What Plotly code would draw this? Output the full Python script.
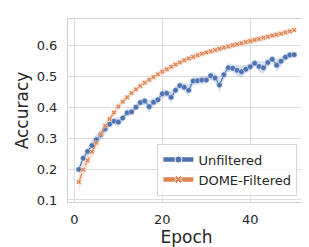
import plotly.graph_objects as go

epochs = list(range(1, 51))

unfiltered = [0.199, 0.235, 0.257, 0.276, 0.295, 0.310, 0.330, 0.345, 0.355, 0.352,
              0.365, 0.382, 0.385, 0.400, 0.415, 0.420, 0.402, 0.416, 0.424, 0.444,
              0.445, 0.432, 0.455, 0.470, 0.465, 0.455, 0.485, 0.486, 0.488, 0.488,
              0.502, 0.495, 0.472, 0.505, 0.528, 0.526, 0.520, 0.515, 0.523, 0.531,
              0.542, 0.532, 0.528, 0.545, 0.555, 0.536, 0.549, 0.562, 0.569, 0.570]
unfiltered_ci = [0.010, 0.012, 0.014, 0.020, 0.018, 0.014, 0.012, 0.012, 0.012, 0.015,
                 0.012, 0.012, 0.012, 0.012, 0.012, 0.012, 0.020, 0.014, 0.012, 0.014,
                 0.012, 0.020, 0.014, 0.012, 0.014, 0.020, 0.014, 0.012, 0.012, 0.012,
                 0.014, 0.016, 0.025, 0.016, 0.014, 0.012, 0.018, 0.020, 0.014, 0.012,
                 0.012, 0.018, 0.020, 0.014, 0.012, 0.020, 0.014, 0.012, 0.012, 0.010]

dome_filtered = [0.158, 0.198, 0.228, 0.256, 0.285, 0.313, 0.340, 0.362, 0.383, 0.402,
                 0.418, 0.432, 0.446, 0.458, 0.469, 0.479, 0.489, 0.498, 0.507, 0.515,
                 0.523, 0.531, 0.538, 0.545, 0.552, 0.558, 0.563, 0.568, 0.573, 0.577,
                 0.581, 0.585, 0.589, 0.593, 0.597, 0.601, 0.604, 0.607, 0.611, 0.614,
                 0.618, 0.621, 0.625, 0.628, 0.632, 0.635, 0.638, 0.642, 0.646, 0.650]
dome_ci = [0.035, 0.025, 0.020, 0.018, 0.015, 0.015, 0.014, 0.012, 0.012, 0.011,
           0.010, 0.010, 0.010, 0.010, 0.010, 0.010, 0.010, 0.010, 0.010, 0.010,
           0.010, 0.010, 0.010, 0.010, 0.010, 0.010, 0.010, 0.010, 0.010, 0.010,
           0.010, 0.010, 0.010, 0.010, 0.010, 0.010, 0.010, 0.010, 0.010, 0.010,
           0.010, 0.010, 0.010, 0.010, 0.010, 0.010, 0.010, 0.010, 0.010, 0.010]

series = [
    ("Unfiltered", unfiltered, unfiltered_ci, "#4c72b0", "rgba(76,114,176,0.22)", "circle", "solid", 5.5),
    ("DOME-Filtered", dome_filtered, dome_ci, "#dd8452", "rgba(221,132,82,0.22)", "x", "dash", 4.5),
]

x_ticks = [0, 20, 40]
y_ticks = [0.1, 0.2, 0.3, 0.4, 0.5, 0.6]

FONT = "DejaVu Sans"
fig = go.Figure()

for name, vals, ci, color, fillc, sym, dash, msize in series:
    upper = [v + c for v, c in zip(vals, ci)]
    lower = [v - c for v, c in zip(vals, ci)]
    fig.add_trace(go.Scatter(x=epochs, y=upper, mode="lines", line=dict(width=0),
                             hoverinfo="skip", showlegend=False))
    fig.add_trace(go.Scatter(x=epochs, y=lower, mode="lines", line=dict(width=0),
                             fill="tonexty", fillcolor=fillc, hoverinfo="skip", showlegend=False))

for name, vals, ci, color, fillc, sym, dash, msize in series:
    fig.add_trace(go.Scatter(x=epochs, y=vals, mode="lines+markers", name=name,
                             line=dict(color=color, width=1.2, dash=dash),
                             marker=dict(symbol=sym, size=msize, color=color,
                                         line=dict(color="white", width=0.4)),
                             showlegend=False))

for name, vals, ci, color, fillc, sym, dash, msize in series:
    # legend entry with thicker line like the reference legend
    fig.add_trace(go.Scatter(x=[None], y=[None], mode="lines+markers", name=name,
                             line=dict(color=color, width=4.5),
                             marker=dict(symbol=sym, size=7, color=color,
                                         line=dict(color="white", width=1))))

fig.update_layout(
    width=309, height=247,
    margin=dict(l=60, r=11.5, t=11, b=53),
    paper_bgcolor="white", plot_bgcolor="white",
    font=dict(family=FONT, size=13, color="#262626"),
    showlegend=True,
    legend=dict(x=0.968, y=0.035, xanchor="right", yanchor="bottom",
                traceorder="normal",
                bgcolor="rgba(255,255,255,0.85)", bordercolor="#d5d5d5", borderwidth=1,
                font=dict(family=FONT, size=13, color="#262626"),
                itemwidth=30, tracegroupgap=0),
)
fig.update_xaxes(range=[-1.45, 52.45], tickvals=x_ticks, ticktext=[str(t) for t in x_ticks],
                 showgrid=True, gridcolor="#dcdcdc", gridwidth=1, zeroline=False,
                 showline=True, linecolor="#d0d0d0", linewidth=1, mirror=True,
                 ticks="", ticklabelstandoff=5,
                 title=dict(text="Epoch", font=dict(family=FONT, size=17, color="#262626"), standoff=2),
                 automargin=False)
fig.update_yaxes(range=[0.0935, 0.6855], tickvals=y_ticks, ticktext=[f"{t:.1f}" for t in y_ticks],
                 showgrid=True, gridcolor="#dcdcdc", gridwidth=1, zeroline=False,
                 showline=True, linecolor="#d0d0d0", linewidth=1, mirror=True,
                 ticks="", ticklabelstandoff=7,
                 title=dict(text="Accuracy", font=dict(family=FONT, size=17, color="#262626"), standoff=3),
                 automargin=False)

fig.write_html("out.html")
